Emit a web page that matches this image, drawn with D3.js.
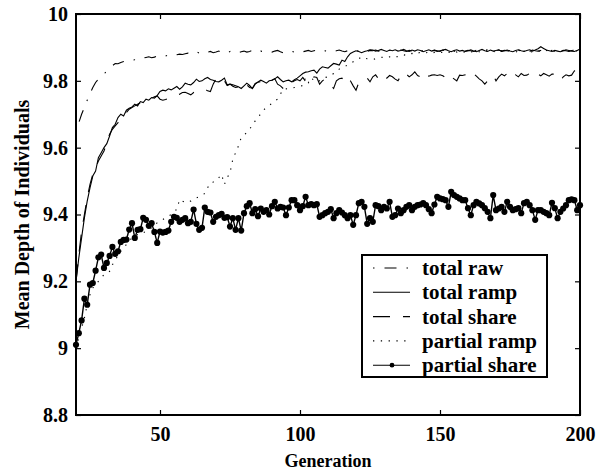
<!DOCTYPE html>
<html>
<head>
<meta charset="utf-8">
<script src="https://cdn.jsdelivr.net/npm/d3@7"></script>
<style>
  body { margin: 0; background: #fff; }
  svg text { font-family: "Liberation Serif", "Times New Roman", serif; font-weight: bold; fill: #000; }
</style>
</head>
<body>
<svg width="608" height="472"></svg>
<script>
// generations 20..200, one value per generation
var generations = d3.range(20, 201);

var totalRaw = [
  9.645, 9.675, 9.700, 9.720, 9.742, 9.762, 9.780, 9.795, 9.805, 9.812,
  9.820, 9.830, 9.838, 9.845, 9.852, 9.851, 9.855, 9.858, 9.857, 9.860,
  9.862, 9.863, 9.861, 9.865, 9.868, 9.870, 9.872, 9.869, 9.871, 9.874,
  9.873, 9.876, 9.874, 9.877, 9.879, 9.876, 9.878, 9.880, 9.879, 9.881,
  9.883, 9.880, 9.884, 9.887, 9.883, 9.885, 9.882, 9.886, 9.888, 9.884,
  9.886, 9.889, 9.885, 9.887, 9.884, 9.888, 9.890, 9.886, 9.884, 9.887,
  9.889, 9.886, 9.888, 9.891, 9.887, 9.885, 9.889, 9.887, 9.890, 9.888,
  9.886, 9.889, 9.891, 9.887, 9.884, 9.888, 9.890, 9.889, 9.886, 9.888,
  9.890, 9.887, 9.889, 9.891, 9.888, 9.890, 9.892, 9.889, 9.887, 9.890,
  9.888, 9.891, 9.889, 9.890, 9.892, 9.889, 9.887, 9.890, 9.892, 9.890,
  9.891, 9.889, 9.893, 9.890, 9.888, 9.891, 9.890, 9.892, 9.889, 9.891,
  9.890, 9.888, 9.891, 9.893, 9.890, 9.889, 9.892, 9.890, 9.888, 9.891,
  9.889, 9.892, 9.890, 9.888, 9.891, 9.893, 9.890, 9.889, 9.891, 9.888,
  9.890, 9.892, 9.889, 9.891, 9.890, 9.888, 9.891, 9.893, 9.890, 9.889,
  9.891, 9.890, 9.888, 9.892, 9.890, 9.889, 9.891, 9.893, 9.890, 9.888,
  9.890, 9.892, 9.889, 9.891, 9.890, 9.888, 9.891, 9.890, 9.892, 9.889,
  9.891, 9.890, 9.888, 9.892, 9.890, 9.889, 9.891, 9.893, 9.890, 9.889,
  9.891, 9.890, 9.892, 9.889, 9.891, 9.890, 9.888, 9.891, 9.892, 9.890,
  9.891
];

var totalRamp = [
  9.200, 9.270, 9.330, 9.390, 9.440, 9.480, 9.515, 9.530, 9.570, 9.585,
  9.600, 9.612, 9.635, 9.660, 9.670, 9.690, 9.700, 9.695, 9.712, 9.718,
  9.722, 9.730, 9.725, 9.738, 9.735, 9.745, 9.742, 9.750, 9.748, 9.756,
  9.768, 9.772, 9.770, 9.776, 9.773, 9.778, 9.783, 9.775, 9.782, 9.793,
  9.790, 9.788, 9.795, 9.805, 9.798, 9.800, 9.806, 9.810, 9.804, 9.802,
  9.798, 9.797, 9.802, 9.808, 9.788, 9.790, 9.788, 9.785, 9.782, 9.777,
  9.785, 9.793, 9.786, 9.777, 9.790, 9.797, 9.802, 9.798, 9.793, 9.800,
  9.802, 9.806, 9.812, 9.804, 9.797, 9.800, 9.802, 9.797, 9.803, 9.808,
  9.815, 9.822, 9.826, 9.827, 9.830, 9.832, 9.823, 9.835, 9.842, 9.840,
  9.838, 9.845, 9.852, 9.850, 9.847, 9.862, 9.858, 9.872, 9.882, 9.886,
  9.890, 9.888, 9.884, 9.888, 9.890, 9.893, 9.892, 9.889, 9.891, 9.894,
  9.891, 9.888, 9.892, 9.890, 9.893, 9.889, 9.891, 9.894, 9.890, 9.888,
  9.892, 9.889, 9.893, 9.891, 9.887, 9.890, 9.893, 9.889, 9.892, 9.890,
  9.888, 9.892, 9.894, 9.890, 9.887, 9.891, 9.893, 9.889, 9.891, 9.888,
  9.890, 9.893, 9.889, 9.887, 9.891, 9.894, 9.890, 9.888, 9.892, 9.889,
  9.891, 9.893, 9.888, 9.890, 9.892, 9.889, 9.887, 9.891, 9.893, 9.890,
  9.888, 9.891, 9.893, 9.889, 9.892, 9.896, 9.902, 9.897, 9.892, 9.890,
  9.888, 9.891, 9.889, 9.887, 9.890, 9.893, 9.891, 9.889, 9.888, 9.891,
  9.895
];

var totalShare = [
  9.200, 9.280, 9.350, 9.400, 9.450, 9.490, 9.520, 9.540, 9.560, 9.575,
  9.590, 9.615, 9.640, 9.655, 9.665, 9.675, 9.690, 9.700, 9.705, 9.715,
  9.720, 9.725, 9.730, 9.735, 9.738, 9.740, 9.745, 9.748, 9.752, 9.755,
  9.745, 9.742, 9.744, 9.748, 9.752, 9.756, 9.758, 9.760, 9.765, 9.766,
  9.762, 9.758, 9.765, 9.768, 9.770, 9.772, 9.775, 9.770, 9.768, 9.790,
  9.806, 9.798, 9.792, 9.800, 9.786, 9.790, 9.784, 9.780, 9.782, 9.776,
  9.790, 9.788, 9.780, 9.778, 9.792, 9.796, 9.798, 9.790, 9.794, 9.800,
  9.802, 9.806, 9.790, 9.785, 9.777, 9.790, 9.798, 9.795, 9.800, 9.804,
  9.800, 9.810, 9.798, 9.808, 9.800, 9.812, 9.810, 9.790, 9.800, 9.806,
  9.798, 9.787, 9.777, 9.800, 9.806, 9.808, 9.797, 9.810, 9.800, 9.785,
  9.772, 9.795, 9.806, 9.808, 9.808, 9.797, 9.812, 9.818, 9.806, 9.814,
  9.820, 9.808, 9.816, 9.812, 9.805, 9.800, 9.815, 9.827, 9.820, 9.812,
  9.818, 9.827, 9.816, 9.812, 9.827, 9.820, 9.814, 9.817, 9.818, 9.816,
  9.818, 9.815, 9.810, 9.822, 9.812, 9.806, 9.800, 9.817, 9.816, 9.818,
  9.817, 9.810, 9.822, 9.814, 9.806, 9.800, 9.790, 9.800, 9.810, 9.817,
  9.800, 9.812, 9.820, 9.815, 9.822, 9.827, 9.812, 9.818, 9.812, 9.822,
  9.816, 9.817, 9.822, 9.830, 9.830, 9.820, 9.815, 9.822, 9.818, 9.814,
  9.820, 9.820, 9.810, 9.800, 9.812, 9.818, 9.815, 9.817, 9.830, 9.820,
  9.815
];

var partialRamp = [
  9.000, 9.030, 9.060, 9.090, 9.130, 9.160, 9.180, 9.190, 9.200, 9.210,
  9.220, 9.225, 9.230, 9.250, 9.260, 9.280, 9.290, 9.300, 9.310, 9.320,
  9.330, 9.335, 9.340, 9.340, 9.345, 9.350, 9.355, 9.360, 9.370, 9.375,
  9.380, 9.385, 9.390, 9.395, 9.400, 9.410, 9.415, 9.445, 9.440, 9.436,
  9.440, 9.440, 9.445, 9.450, 9.453, 9.458, 9.463, 9.480, 9.495, 9.497,
  9.500, 9.510, 9.520, 9.490, 9.510, 9.525, 9.565, 9.585, 9.605, 9.630,
  9.638, 9.645, 9.655, 9.668, 9.680, 9.693, 9.700, 9.713, 9.720, 9.726,
  9.733, 9.740, 9.745, 9.760, 9.775, 9.776, 9.777, 9.778, 9.780, 9.782,
  9.784, 9.786, 9.810, 9.795, 9.810, 9.800, 9.803, 9.800, 9.806, 9.810,
  9.812, 9.816, 9.822, 9.830, 9.835, 9.840, 9.842, 9.848, 9.852, 9.857,
  9.862, 9.866, 9.872, 9.868, 9.866, 9.865, 9.864, 9.866, 9.868, 9.870,
  9.871, 9.869, 9.872, 9.870, 9.873, 9.872, 9.875, 9.878, 9.876, 9.880,
  9.882, 9.879, 9.883, 9.885, 9.882, 9.884, 9.886, 9.883, 9.885, 9.887,
  9.884, 9.886, 9.888, 9.885, 9.887, 9.889, 9.886, 9.888, 9.885, 9.887,
  9.889, 9.886, 9.888, 9.890, 9.887, 9.885, 9.888, 9.890, 9.887, 9.889,
  9.886, 9.888, 9.890, 9.887, 9.889, 9.891, 9.888, 9.886, 9.889, 9.887,
  9.889, 9.891, 9.888, 9.886, 9.889, 9.890, 9.887, 9.889, 9.891, 9.888,
  9.886, 9.889, 9.891, 9.888, 9.890, 9.887, 9.889, 9.891, 9.888, 9.890,
  9.889
];

var partialShare = [
  9.010, 9.045, 9.083, 9.148, 9.130, 9.190, 9.195, 9.232, 9.272, 9.280,
  9.240, 9.255, 9.276, 9.303, 9.282, 9.290, 9.318, 9.324, 9.325, 9.355,
  9.374, 9.330, 9.354, 9.356, 9.390, 9.384, 9.366, 9.374, 9.348, 9.315,
  9.349, 9.346, 9.348, 9.352, 9.378, 9.393, 9.390, 9.378, 9.384, 9.389,
  9.374, 9.378, 9.415, 9.372, 9.354, 9.360, 9.421, 9.408, 9.406, 9.378,
  9.393, 9.398, 9.402, 9.390, 9.392, 9.364, 9.389, 9.354, 9.389, 9.352,
  9.404, 9.425, 9.434, 9.404, 9.416, 9.395, 9.418, 9.408, 9.413, 9.400,
  9.425, 9.438, 9.418, 9.423, 9.421, 9.398, 9.421, 9.443, 9.443, 9.428,
  9.413, 9.425, 9.453, 9.428, 9.431, 9.428, 9.431, 9.393, 9.398, 9.404,
  9.408, 9.416, 9.389, 9.404, 9.413, 9.406, 9.398, 9.389, 9.398, 9.369,
  9.398, 9.434, 9.438, 9.423, 9.372, 9.389, 9.378, 9.428, 9.425, 9.413,
  9.423, 9.418, 9.438, 9.393, 9.398, 9.418, 9.404, 9.413, 9.423, 9.428,
  9.413, 9.423, 9.428, 9.430, 9.434, 9.428, 9.416, 9.404, 9.430, 9.453,
  9.448, 9.446, 9.443, 9.423, 9.468, 9.458, 9.453, 9.448, 9.443, 9.443,
  9.419, 9.398, 9.428, 9.438, 9.433, 9.428, 9.419, 9.408, 9.389, 9.458,
  9.413, 9.418, 9.423, 9.408, 9.438, 9.423, 9.413, 9.416, 9.419, 9.404,
  9.434, 9.438, 9.428, 9.413, 9.384, 9.413, 9.413, 9.408, 9.404, 9.398,
  9.435, 9.419, 9.389, 9.408, 9.418, 9.428, 9.443, 9.445, 9.443, 9.413,
  9.428
];

var seriesNames = ["total raw", "total ramp", "total share", "partial ramp", "partial share"];
var xTicks = [50, 100, 150, 200];
var yTicks = [8.8, 9, 9.2, 9.4, 9.6, 9.8, 10];

(function() {
  var series = [
    {name: seriesNames[0], values: totalRaw,     dash: "1.5,10,12,10", dots: false},
    {name: seriesNames[1], values: totalRamp,    dash: null,           dots: false},
    {name: seriesNames[2], values: totalShare,   dash: "17,13",        dots: false},
    {name: seriesNames[3], values: partialRamp,  dash: "1.3,6.5",      dots: false},
    {name: seriesNames[4], values: partialShare, dash: null,           dots: true}
  ];

  var svg = d3.select("svg");
  var plotL = 76, plotT = 14, plotR = 580, plotB = 415;

  var x = d3.scaleLinear().domain([20, 200]).range([plotL, plotR]);
  var y = d3.scaleLinear().domain([8.8, 10]).range([plotB, plotT]);

  var fmt = function(d) { return d3.format(".1f")(d).replace(/\.0$/, ""); };

  // axes, ticks pointing inward
  var gx = svg.append("g")
    .attr("transform", "translate(0," + plotB + ")")
    .call(d3.axisBottom(x).tickValues(xTicks).tickSizeInner(-5).tickSizeOuter(0).tickPadding(12).tickFormat(fmt));
  var gy = svg.append("g")
    .attr("transform", "translate(" + plotL + ",0)")
    .call(d3.axisLeft(y).tickValues(yTicks).tickSizeInner(-5).tickSizeOuter(0).tickPadding(8).tickFormat(fmt));
  svg.append("g")
    .attr("transform", "translate(0," + plotT + ")")
    .call(d3.axisTop(x).tickValues(xTicks).tickSizeInner(-5).tickSizeOuter(0).tickFormat(""));
  svg.append("g")
    .attr("transform", "translate(" + plotR + ",0)")
    .call(d3.axisRight(y).tickValues(yTicks).tickSizeInner(-5).tickSizeOuter(0).tickFormat(""));

  svg.selectAll(".domain").remove();
  svg.selectAll(".tick line").attr("stroke", "#000").attr("stroke-width", 1.2);
  gx.selectAll("text").style("font-size", "20px").attr("dy", "0.71em");
  gy.selectAll("text").style("font-size", "20px");

  svg.append("rect")
    .attr("x", plotL).attr("y", plotT)
    .attr("width", plotR - plotL).attr("height", plotB - plotT)
    .attr("fill", "none").attr("stroke", "#000").attr("stroke-width", 2);

  // series lines
  var line = d3.line()
    .x(function(d, i) { return x(generations[i]); })
    .y(function(d) { return y(d); });

  series.forEach(function(s) {
    svg.append("path")
      .datum(s.values)
      .attr("d", line)
      .attr("fill", "none")
      .attr("stroke", "#000")
      .attr("stroke-width", s.dots ? 1.4 : 1.1)
      .attr("stroke-dasharray", s.dash);
    if (s.dots) {
      svg.append("g").selectAll("circle")
        .data(s.values)
        .enter()
        .append("circle")
        .attr("cx", function(d, i) { return x(generations[i]); })
        .attr("cy", function(d) { return y(d); })
        .attr("r", 3.1)
        .attr("fill", "#000");
    }
  });

  // axis titles
  svg.append("text")
    .attr("x", (plotL + plotR) / 2).attr("y", 467)
    .attr("text-anchor", "middle")
    .style("font-size", "18px")
    .text("Generation");
  svg.append("text")
    .attr("transform", "translate(29," + ((plotT + plotB) / 2) + ") rotate(-90)")
    .attr("text-anchor", "middle")
    .style("font-size", "20px")
    .text("Mean Depth of Individuals");

  // legend
  var legend = svg.append("g").attr("transform", "translate(362,255)");
  legend.append("rect")
    .attr("width", 185).attr("height", 122)
    .attr("fill", "#fff").attr("stroke", "#000").attr("stroke-width", 2);

  var rows = legend.selectAll("g.row")
    .data(series)
    .enter()
    .append("g")
    .attr("class", "row")
    .attr("transform", function(d, i) { return "translate(0," + (13 + i * 24.3) + ")"; });

  rows.append("line")
    .attr("x1", 11).attr("x2", 48)
    .attr("stroke", "#000").attr("stroke-width", 1.1)
    .attr("stroke-dasharray", function(d) { return d.dash; });
  rows.filter(function(d) { return d.dots; })
    .append("circle")
    .attr("cx", 30).attr("r", 2.4).attr("fill", "#000");
  rows.append("text")
    .attr("x", 60).attr("dy", "0.33em")
    .style("font-size", "21px")
    .text(function(d) { return d.name; });
})();
</script>
</body>
</html>
